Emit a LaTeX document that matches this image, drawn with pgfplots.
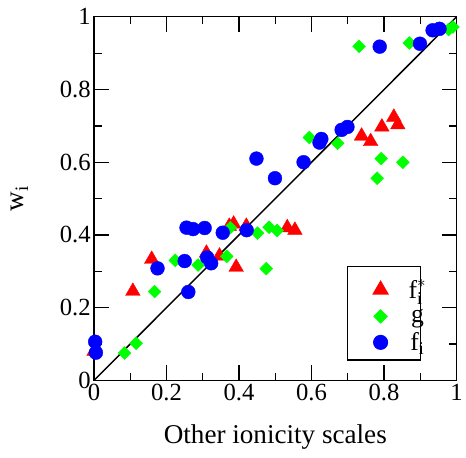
\documentclass[border=0pt]{standalone}
\usepackage{amsmath}
\usepackage{fontspec}
\setmainfont{Liberation Serif}
\usepackage{pgfplots}
\pgfplotsset{compat=1.18}

\definecolor{mred}{RGB}{255,0,0}
\definecolor{mgreen}{RGB}{0,255,0}
\definecolor{mblue}{RGB}{0,0,255}

% legend images: extra room above the first row
\pgfplotsset{
  legimg/.style={legend image code/.code={\path (-40bp,0bp); \draw[##1] plot coordinates {(0bp,0bp)};}},
  legimgtop/.style={legend image code/.code={\path (-40bp,0bp) (0bp,17bp); \draw[##1] plot coordinates {(0bp,0bp)};}},
}

\begin{document}
\begin{tikzpicture}
\begin{axis}[
  scale only axis,
  width=366bp, height=367bp,
  xmin=0, xmax=1, ymin=0, ymax=1,
  xtick={0,0.2,0.4,0.6,0.8,1},
  ytick={0,0.2,0.4,0.6,0.8,1},
  minor tick num=1,
  tick align=inside,
  major tick length=15bp,
  minor tick length=7.5bp,
  axis line style={line width=1.3bp},
  every tick/.style={line width=1.3bp, black},
  /pgf/number format/assume math mode=true,
  tick label style={font=\fontsize{25}{30}\selectfont},
  every axis x label/.style={at={(rel axis cs:0.5,-0.155)}, anchor=center},
  every axis y label/.style={at={(rel axis cs:-0.205,0.5)}, anchor=center, rotate=90},
  label style={font=\fontsize{27.5}{32}\selectfont},
  xlabel={Other ionicity scales},
  ylabel={w\textsubscript{i}},
  clip=false,
  legimg,
  legend style={at={(rel axis cs:0.903,0.054)}, anchor=south east, draw=black, line width=1.2bp,
    font=\fontsize{26}{30}\selectfont, row sep=5bp, inner xsep=-7.5bp, inner ysep=6bp,
    cells={inner xsep=1bp, anchor=center},
    /tikz/every odd column/.append style={column sep=19bp}},
]
% f_i^* (red triangles)
\addplot[only marks, mark=triangle*, mark size=8.5bp, color=mred, legimgtop]
  coordinates {
    (0.000,0.080) (0.107,0.245) (0.159,0.333) (0.310,0.350) (0.346,0.342)
    (0.373,0.424) (0.385,0.430) (0.392,0.311) (0.420,0.424) (0.533,0.420)
    (0.554,0.413) (0.738,0.672) (0.763,0.657) (0.794,0.697) (0.827,0.724)
    (0.838,0.703)
  };
\addlegendentry{$\text{f}_{\text{i}}^{*}$}
% g (green diamonds)
\addplot[only marks, mark=square*, mark size=4.6bp, color=mgreen, mark options={rotate=45}]
  coordinates {
    (0.084,0.075) (0.116,0.102) (0.167,0.244) (0.224,0.330) (0.287,0.317)
    (0.366,0.341) (0.376,0.420) (0.451,0.405) (0.483,0.421) (0.505,0.412)
    (0.475,0.307) (0.594,0.668) (0.672,0.652) (0.731,0.919) (0.870,0.928)
    (0.792,0.610) (0.852,0.600) (0.781,0.556) (0.978,0.965) (0.990,0.972)
  };
\addlegendentry{g}
% f_i (blue circles)
\addplot[only marks, mark=*, mark size=7bp, color=mblue]
  coordinates {
    (0.003,0.106) (0.005,0.076) (0.175,0.308) (0.260,0.243) (0.250,0.328)
    (0.255,0.420) (0.273,0.416) (0.305,0.419) (0.312,0.338) (0.323,0.322)
    (0.355,0.406) (0.421,0.413) (0.448,0.610) (0.499,0.556) (0.578,0.600)
    (0.622,0.654) (0.627,0.664) (0.683,0.689) (0.699,0.697) (0.788,0.918)
    (0.899,0.926) (0.934,0.963) (0.953,0.967)
  };
\addlegendentry{f\textsubscript{i}}
% diagonal
\addplot[black, line width=1.5bp, forget plot] coordinates {(0,0) (1,1)};
\end{axis}
\path (current axis.south west) ++(-95bp,-78bp) rectangle ++(466bp,462bp);
\end{tikzpicture}
\end{document}
